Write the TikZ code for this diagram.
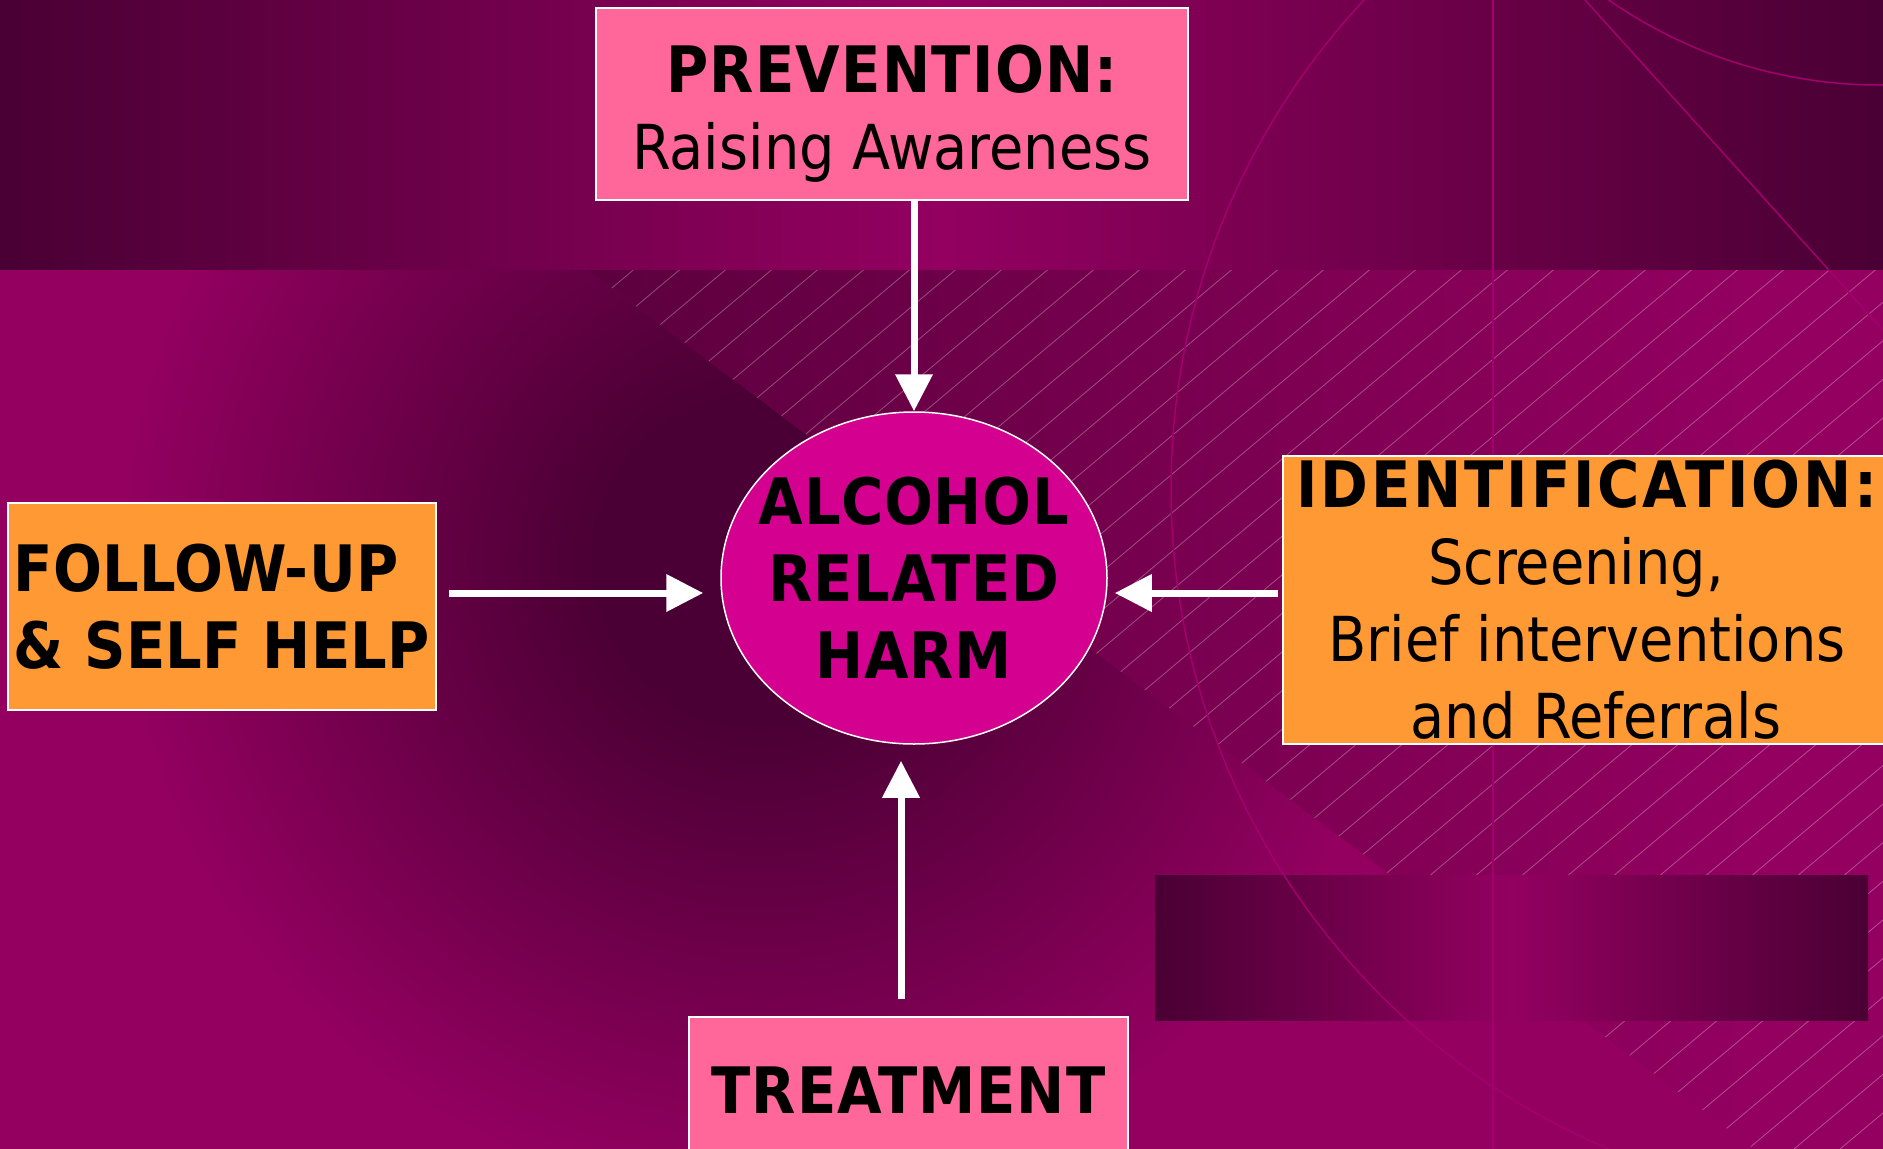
\documentclass[tikz,border=0pt]{standalone}
\usepackage{fontspec}
\setmainfont{DejaVu Sans Condensed}
\usetikzlibrary{shapes.geometric,arrows.meta}
\definecolor{bgdark}{RGB}{74,0,52}
\definecolor{bgmid}{RGB}{92,0,62}
\definecolor{bgbright}{RGB}{147,0,96}
\definecolor{boxpink}{RGB}{255,102,153}
\definecolor{boxorange}{RGB}{255,153,51}
\definecolor{harmpink}{RGB}{212,0,143}
\definecolor{decoline}{RGB}{163,0,110}
\pgfdeclareradialshading{darkwedge}{\pgfpointorigin}{color(0bp)=(bgdark); color(6.25bp)=(bgdark); color(25bp)=(bgbright); color(50bp)=(bgbright)}
\begin{document}
\begin{tikzpicture}[x=1pt,y=-1pt]
	\tikzset{box/.style={draw=white,line width=1.5pt,fill=#1,inner sep=0pt,align=center,font=\fontsize{62}{77}\selectfont},
		bold text/.style={font=\fontsize{64}{77}\selectfont\bfseries\addfontfeature{LetterSpace=#1}},
		harm ellipse/.style={ellipse,draw=white,line width=1.5pt,fill=harmpink,inner xsep=-30pt,inner ysep=0pt,minimum width=386pt,minimum height=332pt,align=center,bold text=1},
		white arrow/.style={draw=white,line width=7pt,-{Triangle[length=37pt,width=36pt]}},
		hatch line/.style={white,opacity=0.3,line width=0.8pt},
		deco line/.style={decoline,line width=1.5pt}}
	\useasboundingbox (0,0) rectangle (1883,1149);
	\shade[left color=bgdark,right color=bgdark,middle color=bgbright] (0,0) rectangle (1883,270);
	\fill[bgbright] (0,270) rectangle (1883,1149);
	\begin{scope}
		\clip (0,270) -- (588,270) -- (1754,1149) -- (0,1149) -- cycle;
		\shade[shading=darkwedge] (760,560) circle (640pt);
	\end{scope}
	\begin{scope}
		\clip (588,270) -- (1883,270) -- (1883,1149) -- (1754,1149) -- cycle;
		\shade[left color=bgmid,right color=bgbright] (588,270) rectangle (1750,1149);
		\foreach \i in {-10,...,41}
			\draw[hatch line] (\i*46,1149) -- ++(1369,-1149);
	\end{scope}
	\shade[left color=bgdark,right color=bgdark,middle color=bgbright] (1155,875) rectangle (1868,1020);
	\begin{scope}
		\clip (0,0) rectangle (1883,1149);
		\draw[deco line] (1493,0) -- (1493,1149);
		\draw[deco line] (1887,489) circle (716pt);
		\draw[deco line] (1880,-390) circle (475pt);
		\draw[deco line] (1585,0) -- (1883,330);
	\end{scope}
	\node[box=boxpink,minimum width=592pt,minimum height=192pt] (prev) at (892,104) {\rule{0pt}{66pt}{\fontsize{64}{77}\selectfont\bfseries\addfontfeature{LetterSpace=2}PREVENTION:}\\Raising Awareness};
	\node[harm ellipse] (harm) at (914,578) {ALCOHOL\\RELATED\\HARM};
	\node[box=boxorange,minimum width=428pt,minimum height=207pt,align=left,bold text=0.5] (follow) at (222,606.5) {FOLLOW-UP\\\& SELF HELP};
	\node[box=boxorange,minimum width=608pt,minimum height=288pt] (ident) at (1587,600) {{\fontsize{64}{77}\selectfont\bfseries\addfontfeature{LetterSpace=4.5}IDENTIFICATION:}\\Screening,\rule{22pt}{0pt}\\Brief interventions\\\rule{18pt}{0pt}and Referrals};
	\node[box=boxpink,minimum width=439pt,minimum height=146pt,bold text=1.5] (treat) at (908.5,1090) {TREATMENT};
	\draw[white arrow] (prev.south -| harm.north) -- (harm.north);
	\draw[white arrow,shorten <=12pt,shorten >=17pt] ([yshift=13.5pt]follow.east) -- ([yshift=13.5pt]follow.east -| harm.west);
	\draw[white arrow,shorten <=4pt,shorten >=7pt] ([yshift=7pt]ident.west) -- ([yshift=7pt]ident.west -| harm.east);
	\draw[white arrow,shorten <=17pt,shorten >=16pt] ([xshift=-7.5pt]treat.north) -- ([xshift=-7.5pt]treat.north |- harm.south);
\end{tikzpicture}
\end{document}
